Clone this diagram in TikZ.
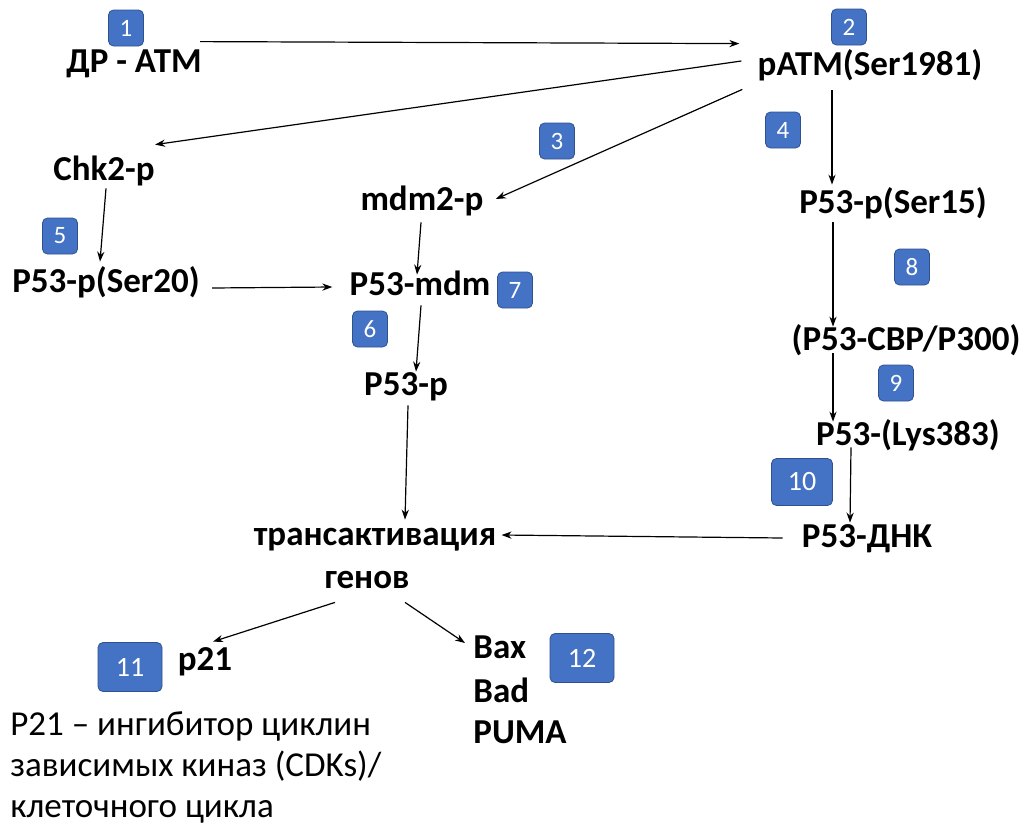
\documentclass[tikz,border=0pt]{standalone}
\usepackage{fontspec}
\setmainfont{Carlito}
\usepackage{tikz}
\usetikzlibrary{arrows.meta}
\definecolor{badgeblue}{HTML}{4472C4}
\definecolor{badgeline}{HTML}{2F528F}

\begin{document}
\begin{tikzpicture}[x=0.5pt,y=-0.5pt,
    lbl/.style={anchor=base, font=\bfseries\fontsize{17.5}{21}\selectfont, text height=12pt, text depth=4pt, inner sep=2pt},
    lbll/.style={lbl, anchor=base west},
    txt/.style={anchor=base west, font=\fontsize{17.5}{21}\selectfont, inner sep=0pt},
    num/.style={draw=badgeline, fill=badgeblue, text=white, rounded corners=2.5pt, minimum width=17.5pt, minimum height=18pt, inner sep=0pt, font=\fontsize{12.5}{14}\selectfont},
    bignum/.style={num, minimum width=32pt, minimum height=24.5pt, font=\fontsize{14}{16}\selectfont},
    arr/.style={-{Stealth[length=5pt,width=3.6pt]}, line width=0.6pt}]
    \useasboundingbox (0,0) rectangle (1027,830);

    % ATM branch
    \node[lbl] (dr) at (134,72) {ДР - АТМ};
    \node[lbl] (patm) at (870,75) {pATM(Ser1981)};
    \node[lbl] (chk) at (104,180) {Chk2-p};
    \node[lbl] (mdm) at (422,210) {mdm2-p};
    \node[lbl] (ser15) at (893,213) {P53-p(Ser15)};

    % middle rows
    \node[lbl] (ser20) at (106,292) {P53-p(Ser20)};
    \node[lbl] (p53mdm) at (420,295) {P53-mdm};
    \node[lbl] (p53p) at (406,395) {P53-p};
    \node[lbl] (cbp) at (906,350) {(P53-CBP/P300)};
    \node[lbl] (lys) at (908,445) {P53-(Lys383)};
    \node[lbl] (dnk) at (867,547) {P53-ДНК};
    \node[lbl] (trans) at (375,545) {трансактивация};
    \node[lbl] (gen) at (367,588) {генов};

    % targets
    \node[lbl] (p21) at (205,670) {p21};
    \node[lbll] (bax) at (469,658) {Bax};
    \node[lbll] (bad) at (469,702) {Bad};
    \node[lbll] (puma) at (469,743) {PUMA};
    \node[txt] (note1) at (10,735) {P21 -- ингибитор циклин};
    \node[txt] (note2) at (10,776) {зависимых киназ (CDKs)/};
    \node[txt] (note3) at (10,817) {клеточного цикла};

    % step numbers
    \node[num] (n1) at (126,28) {1};
    \node[num] (n2) at (849,27) {2};
    \node[num] (n3) at (557,141) {3};
    \node[num] (n4) at (783,130) {4};
    \node[num] (n5) at (60,236) {5};
    \node[num] (n6) at (370,329) {6};
    \node[num] (n7) at (515,290) {7};
    \node[num] (n8) at (912,267) {8};
    \node[num] (n9) at (896,383) {9};
    \node[bignum, minimum width=30.5pt, minimum height=23.5pt] (n10) at (802,482) {10};
    \node[bignum] (n11) at (130,667) {11};
    \node[bignum] (n12) at (582,658) {12};

    % arrows
    \draw[arr] ([xshift=-3pt,yshift=1pt]dr.north east) -- ([xshift=-7pt,yshift=1.5pt]patm.north west);
    \draw[arr] ([xshift=-6pt,yshift=3pt]patm.west) -- ([xshift=-2pt,yshift=3.5pt]chk.north east);
    \draw[arr] ([xshift=-5.5pt,yshift=-1pt]patm.south west) -- ([xshift=4pt,yshift=1.5pt]mdm.east);
    \draw[arr] ([xshift=-19pt,yshift=-1.5pt]patm.south) -- ([xshift=-30.5pt]ser15.north);
    \draw[arr] ([xshift=1pt,yshift=2pt]chk.south) -- ([xshift=-3pt,yshift=1pt]ser20.north);
    \draw[arr] ([xshift=4pt,yshift=-2pt]ser20.east) -- ([xshift=-6.5pt]p53mdm.west);
    \draw[arr] ([xshift=-0.5pt]mdm.south) -- ([xshift=-1.5pt,yshift=-4pt]p53mdm.north);
    \draw[arr] ([xshift=0.5pt,yshift=1pt]p53mdm.south) -- ([xshift=5pt,yshift=-2.5pt]p53p.north);
    \draw[arr] ([xshift=1pt,yshift=1pt]p53p.south) -- ([xshift=15pt,yshift=-1.5pt]trans.north);
    \draw[arr] ([xshift=-30pt,yshift=1.5pt]ser15.south) -- ([xshift=-36.5pt,yshift=-2.5pt]cbp.north);
    \draw[arr] ([xshift=-36.5pt,yshift=4.5pt]cbp.south) -- ([xshift=-37.5pt,yshift=-2.5pt]lys.north);
    \draw[arr] ([xshift=-28.5pt,yshift=5pt]lys.south) -- ([xshift=-8.5pt,yshift=-2pt]dnk.north);
    \draw[arr] ([xshift=-7.5pt,yshift=0.5pt]dnk.west) -- ([xshift=0.5pt,yshift=1pt]trans.east);
    \draw[arr] ([xshift=-16pt,yshift=-1pt]gen.south) -- ([xshift=4pt]p21.north);
    \draw[arr] ([xshift=19pt,yshift=-1pt]gen.south) -- ([xshift=-2pt,yshift=3.5pt]bax.west);
\end{tikzpicture}
\end{document}
